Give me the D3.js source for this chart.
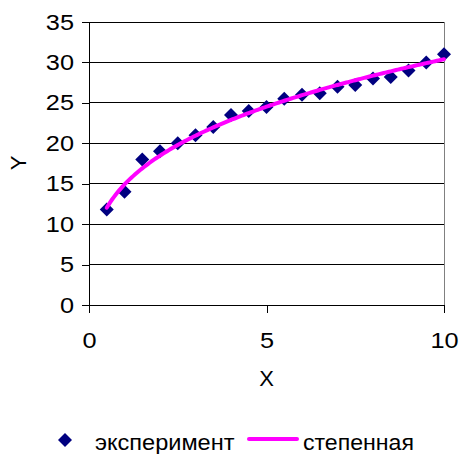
<!DOCTYPE html>
<html><head><meta charset="utf-8">
<script src="https://cdn.jsdelivr.net/npm/d3@7"></script>
<style>body{margin:0;background:#fff}</style>
</head><body>
<svg id="c" width="461" height="454"></svg>
<script>
const xValues = [0.5,1,1.5,2,2.5,3,3.5,4,4.5,5,5.5,6,6.5,7,7.5,8,8.5,9,9.5,10];
const yValues = [11.8,14,18,19,20,21,22,23.5,24,24.5,25.5,26,26.2,27,27.2,28,28.2,29,30,31];
const xTicks = [0,5,10];
const yTicks = [0,5,10,15,20,25,30,35];
const seriesNames = ["эксперимент","степенная"];

const svg = d3.select("#c");
const font = "Liberation Sans, Arial, sans-serif";
const L=89, R=444, T=22, B=305;
const x = d3.scaleLinear().domain([0,10]).range([L,R]);
const y = d3.scaleLinear().domain([0,35]).range([B,T]);

function stretch(sel, k){
  sel.each(function(){
    const w = this.getComputedTextLength();
    d3.select(this).attr("textLength", w*k).attr("lengthAdjust","spacingAndGlyphs");
  });
}

// gridlines
svg.append("g").selectAll("line").data(yTicks.filter(d=>d>0)).join("line")
  .attr("x1",L).attr("x2",R).attr("y1",d=>y(d)).attr("y2",d=>y(d))
  .attr("stroke","#000").attr("stroke-width",1).attr("shape-rendering","crispEdges");
// right border
svg.append("line").attr("x1",R).attr("x2",R).attr("y1",T).attr("y2",B)
  .attr("stroke","#808080").attr("stroke-width",1).attr("shape-rendering","crispEdges");

// axes
const yAxis = d3.axisLeft(y).tickValues(yTicks).tickSize(7).tickPadding(8).tickFormat(d3.format("d"));
const gy = svg.append("g").attr("transform",`translate(${L},0)`).call(yAxis);
const xAxis = d3.axisBottom(x).tickValues(xTicks).tickSize(8).tickPadding(19).tickFormat(d3.format("d"));
const gx = svg.append("g").attr("transform",`translate(0,${B})`).call(xAxis);
[gx,gy].forEach(g=>{
  g.select(".domain").attr("stroke","#000").attr("shape-rendering","crispEdges");
  g.selectAll(".tick line").attr("stroke","#000").attr("shape-rendering","crispEdges");
  g.selectAll("text").attr("font-family",font).attr("font-size",22).attr("fill","#000");
  stretch(g.selectAll("text"), 1.15);
});
gy.select(".domain").attr("d",`M0,${B}V${T}`);
gx.select(".domain").attr("d",`M${L},0H${R}`);

// power trendline (least squares in log space, as Excel)
const lx = xValues.map(Math.log), lyv = yValues.map(Math.log);
const mx = d3.mean(lx), my = d3.mean(lyv);
const b = d3.sum(lx.map((v,i)=>(v-mx)*(lyv[i]-my))) / d3.sum(lx.map(v=>(v-mx)*(v-mx)));
const a = Math.exp(my - b*mx);
const curveX = d3.range(0.5, 10.0001, 0.05);

// markers
svg.append("g").selectAll("path").data(xValues).join("path")
  .attr("d", "M0,-7L7,0L0,7L-7,0Z")
  .attr("transform",(d,i)=>`translate(${x(d)},${y(yValues[i])})`)
  .attr("fill","#000080");
// trendline over markers
svg.append("path").datum(curveX)
  .attr("d", d3.line().x(d=>x(d)).y(d=>y(a*Math.pow(d,b))))
  .attr("fill","none").attr("stroke","#FF00FF").attr("stroke-width",4).attr("stroke-linecap","round");

// axis titles
svg.append("text").attr("x",x(5)).attr("y",386).attr("text-anchor","middle")
  .attr("font-family",font).attr("font-size",22).text("X");
svg.append("text").attr("transform",`translate(26,163) rotate(-90)`).attr("text-anchor","middle")
  .attr("font-family",font).attr("font-size",22).text("Y");

// legend
const ly0 = 440;
svg.append("path").attr("d","M0,-7L7,0L0,7L-7,0Z").attr("transform",`translate(65,${ly0})`).attr("fill","#000080");
const t1 = svg.append("text").attr("x",95).attr("y",450).attr("font-family",font).attr("font-size",22).text(seriesNames[0]);
svg.append("line").attr("x1",249).attr("x2",297).attr("y1",ly0-1).attr("y2",ly0-1)
  .attr("stroke","#FF00FF").attr("stroke-width",4).attr("stroke-linecap","round");
const t2 = svg.append("text").attr("x",303).attr("y",450).attr("font-family",font).attr("font-size",22).text(seriesNames[1]);
stretch(t1, 1.07); stretch(t2, 1.05);
</script>
</body></html>
